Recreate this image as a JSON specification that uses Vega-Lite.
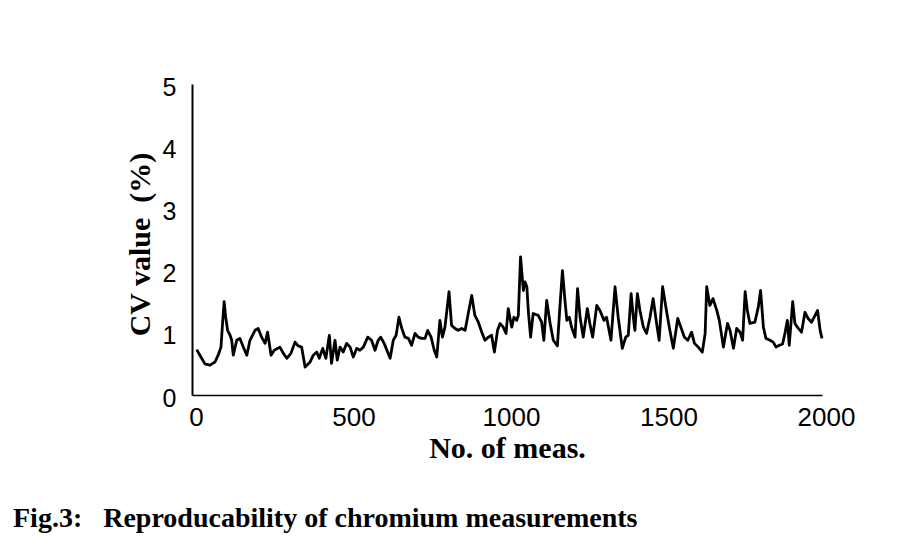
{
  "$schema": "https://vega.github.io/schema/vega-lite/v6.json",
  "width": 630,
  "height": 311,
  "autosize": "none",
  "padding": {"left": 192, "top": 84, "right": 84, "bottom": 141},
  "background": "white",
  "config": {"view": {"stroke": null}},
  "title": {
    "text": "Fig.3:\u00a0\u00a0\u00a0Reproducability of chromium measurements",
    "orient": "bottom",
    "anchor": "start",
    "frame": "group",
    "dx": -179,
    "offset": 42,
    "baseline": "top",
    "font": "Liberation Serif",
    "fontWeight": "bold",
    "fontSize": 28,
    "color": "black"
  },
  "data": {
    "values": [
      {"n": 15, "cv": 0.73}, {"n": 25, "cv": 0.64}, {"n": 41, "cv": 0.5}, {"n": 57, "cv": 0.48},
      {"n": 73, "cv": 0.53}, {"n": 83, "cv": 0.64}, {"n": 92, "cv": 0.77}, {"n": 97, "cv": 1.15},
      {"n": 102, "cv": 1.5}, {"n": 107, "cv": 1.25}, {"n": 113, "cv": 1.04}, {"n": 121, "cv": 0.96},
      {"n": 126, "cv": 0.88}, {"n": 131, "cv": 0.64}, {"n": 142, "cv": 0.88}, {"n": 152, "cv": 0.91},
      {"n": 163, "cv": 0.77}, {"n": 174, "cv": 0.64}, {"n": 184, "cv": 0.88}, {"n": 200, "cv": 1.04},
      {"n": 210, "cv": 1.07}, {"n": 221, "cv": 0.93}, {"n": 232, "cv": 0.83}, {"n": 240, "cv": 1.01},
      {"n": 251, "cv": 0.64}, {"n": 261, "cv": 0.72}, {"n": 279, "cv": 0.77}, {"n": 290, "cv": 0.67},
      {"n": 301, "cv": 0.59}, {"n": 314, "cv": 0.67}, {"n": 327, "cv": 0.85}, {"n": 337, "cv": 0.79},
      {"n": 348, "cv": 0.77}, {"n": 359, "cv": 0.45}, {"n": 375, "cv": 0.53}, {"n": 385, "cv": 0.64},
      {"n": 396, "cv": 0.69}, {"n": 404, "cv": 0.59}, {"n": 415, "cv": 0.75}, {"n": 425, "cv": 0.59},
      {"n": 436, "cv": 0.96}, {"n": 443, "cv": 0.51}, {"n": 454, "cv": 0.88}, {"n": 461, "cv": 0.56},
      {"n": 470, "cv": 0.77}, {"n": 480, "cv": 0.69}, {"n": 491, "cv": 0.83}, {"n": 502, "cv": 0.77},
      {"n": 512, "cv": 0.61}, {"n": 523, "cv": 0.75}, {"n": 533, "cv": 0.72}, {"n": 544, "cv": 0.77},
      {"n": 558, "cv": 0.93}, {"n": 570, "cv": 0.88}, {"n": 581, "cv": 0.72}, {"n": 591, "cv": 0.88},
      {"n": 599, "cv": 0.93}, {"n": 610, "cv": 0.83}, {"n": 629, "cv": 0.59}, {"n": 639, "cv": 0.88},
      {"n": 648, "cv": 0.96}, {"n": 657, "cv": 1.25}, {"n": 666, "cv": 1.07}, {"n": 676, "cv": 0.93},
      {"n": 687, "cv": 0.91}, {"n": 697, "cv": 0.8}, {"n": 708, "cv": 0.99}, {"n": 718, "cv": 0.93},
      {"n": 729, "cv": 0.91}, {"n": 740, "cv": 0.91}, {"n": 748, "cv": 1.04}, {"n": 759, "cv": 0.93},
      {"n": 769, "cv": 0.72}, {"n": 777, "cv": 0.61}, {"n": 787, "cv": 1.2}, {"n": 795, "cv": 0.93},
      {"n": 803, "cv": 1.09}, {"n": 816, "cv": 1.66}, {"n": 824, "cv": 1.12}, {"n": 835, "cv": 1.07},
      {"n": 845, "cv": 1.04}, {"n": 856, "cv": 1.07}, {"n": 867, "cv": 1.04}, {"n": 877, "cv": 1.31},
      {"n": 888, "cv": 1.6}, {"n": 898, "cv": 1.28}, {"n": 909, "cv": 1.17}, {"n": 920, "cv": 1.01},
      {"n": 930, "cv": 0.88}, {"n": 941, "cv": 0.93}, {"n": 951, "cv": 0.96}, {"n": 960, "cv": 0.69},
      {"n": 970, "cv": 1.04}, {"n": 978, "cv": 1.15}, {"n": 988, "cv": 1.09}, {"n": 997, "cv": 0.99},
      {"n": 1004, "cv": 1.39}, {"n": 1015, "cv": 1.09}, {"n": 1022, "cv": 1.25}, {"n": 1031, "cv": 1.2},
      {"n": 1036, "cv": 1.28}, {"n": 1043, "cv": 2.22}, {"n": 1052, "cv": 1.68}, {"n": 1057, "cv": 1.82},
      {"n": 1063, "cv": 1.74}, {"n": 1068, "cv": 1.33}, {"n": 1075, "cv": 0.93}, {"n": 1083, "cv": 1.31},
      {"n": 1099, "cv": 1.28}, {"n": 1110, "cv": 1.17}, {"n": 1117, "cv": 0.88}, {"n": 1126, "cv": 1.52},
      {"n": 1137, "cv": 1.15}, {"n": 1147, "cv": 0.88}, {"n": 1160, "cv": 0.79}, {"n": 1168, "cv": 1.42},
      {"n": 1176, "cv": 2.0}, {"n": 1184, "cv": 1.52}, {"n": 1190, "cv": 1.2}, {"n": 1198, "cv": 1.25},
      {"n": 1205, "cv": 1.09}, {"n": 1216, "cv": 0.93}, {"n": 1224, "cv": 1.71}, {"n": 1232, "cv": 1.25},
      {"n": 1242, "cv": 0.93}, {"n": 1255, "cv": 1.39}, {"n": 1263, "cv": 1.15}, {"n": 1272, "cv": 0.93},
      {"n": 1285, "cv": 1.44}, {"n": 1295, "cv": 1.36}, {"n": 1308, "cv": 1.2}, {"n": 1316, "cv": 1.25},
      {"n": 1330, "cv": 0.88}, {"n": 1343, "cv": 1.74}, {"n": 1353, "cv": 1.25}, {"n": 1366, "cv": 0.75},
      {"n": 1377, "cv": 0.93}, {"n": 1385, "cv": 0.96}, {"n": 1394, "cv": 1.63}, {"n": 1401, "cv": 1.25},
      {"n": 1406, "cv": 1.04}, {"n": 1414, "cv": 1.63}, {"n": 1422, "cv": 1.36}, {"n": 1433, "cv": 1.09},
      {"n": 1443, "cv": 0.99}, {"n": 1454, "cv": 1.25}, {"n": 1464, "cv": 1.55}, {"n": 1475, "cv": 1.15},
      {"n": 1483, "cv": 0.88}, {"n": 1494, "cv": 1.74}, {"n": 1507, "cv": 1.33}, {"n": 1517, "cv": 1.04},
      {"n": 1528, "cv": 0.75}, {"n": 1542, "cv": 1.23}, {"n": 1552, "cv": 1.09}, {"n": 1563, "cv": 0.93},
      {"n": 1574, "cv": 0.88}, {"n": 1586, "cv": 1.01}, {"n": 1595, "cv": 0.83}, {"n": 1607, "cv": 0.77},
      {"n": 1620, "cv": 0.69}, {"n": 1629, "cv": 0.99}, {"n": 1634, "cv": 1.74}, {"n": 1644, "cv": 1.44},
      {"n": 1654, "cv": 1.55}, {"n": 1666, "cv": 1.36}, {"n": 1674, "cv": 1.2}, {"n": 1687, "cv": 0.77},
      {"n": 1700, "cv": 1.15}, {"n": 1708, "cv": 1.04}, {"n": 1719, "cv": 0.75}, {"n": 1729, "cv": 1.07},
      {"n": 1740, "cv": 1.01}, {"n": 1748, "cv": 0.88}, {"n": 1756, "cv": 1.66}, {"n": 1763, "cv": 1.36},
      {"n": 1771, "cv": 1.15}, {"n": 1787, "cv": 1.17}, {"n": 1798, "cv": 1.42}, {"n": 1805, "cv": 1.68},
      {"n": 1814, "cv": 1.09}, {"n": 1822, "cv": 0.91}, {"n": 1835, "cv": 0.88}, {"n": 1845, "cv": 0.85},
      {"n": 1854, "cv": 0.77}, {"n": 1865, "cv": 0.8}, {"n": 1875, "cv": 0.82}, {"n": 1883, "cv": 1.01},
      {"n": 1890, "cv": 1.2}, {"n": 1896, "cv": 0.8}, {"n": 1907, "cv": 1.5}, {"n": 1914, "cv": 1.15},
      {"n": 1925, "cv": 1.07}, {"n": 1935, "cv": 1.01}, {"n": 1946, "cv": 1.33}, {"n": 1956, "cv": 1.23},
      {"n": 1967, "cv": 1.17}, {"n": 1978, "cv": 1.28}, {"n": 1986, "cv": 1.36}, {"n": 1994, "cv": 1.04},
      {"n": 2000, "cv": 0.91}
    ]
  },
  "mark": {"type": "line", "color": "black", "strokeWidth": 2.8, "strokeJoin": "round"},
  "encoding": {
    "x": {
      "field": "n",
      "type": "quantitative",
      "scale": {"domain": [0, 2000], "nice": false},
      "axis": {
        "title": "No. of meas.",
        "values": [0, 500, 1000, 1500, 2000],
        "format": "d",
        "grid": false,
        "ticks": false,
        "domainColor": "black",
        "domainWidth": 1.5,
        "labelFont": "Liberation Sans",
        "labelFontSize": 26,
        "labelColor": "black",
        "labelPadding": 9,
        "labelFlush": false,
        "labelOverlap": false,
        "labelOffset": 4,
        "titleFont": "Liberation Serif",
        "titleFontWeight": "bold",
        "titleFontSize": 30,
        "titleColor": "black",
        "titlePadding": 3
      }
    },
    "y": {
      "field": "cv",
      "type": "quantitative",
      "scale": {"domain": [0, 5], "nice": false},
      "axis": {
        "title": "CV value\u00a0\u00a0(%)",
        "values": [0, 1, 2, 3, 4, 5],
        "format": "d",
        "grid": false,
        "ticks": false,
        "domainColor": "black",
        "domainWidth": 2,
        "labelFont": "Liberation Sans",
        "labelFontSize": 25,
        "labelColor": "black",
        "labelPadding": 16,
        "labelFlush": false,
        "labelOverlap": false,
        "labelOffset": 3,
        "titleFont": "Liberation Serif",
        "titleFontWeight": "bold",
        "titleFontSize": 30,
        "titleColor": "black",
        "titleX": -37,
        "titleY": 160
      }
    }
  }
}
